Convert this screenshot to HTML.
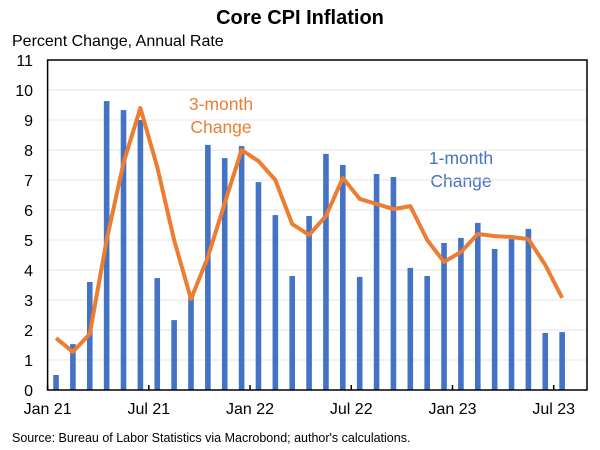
<!DOCTYPE html>
<html><head><meta charset="utf-8"><style>
body{margin:0;background:#fff;}
svg{display:block;font-family:"Liberation Sans",Arial,sans-serif;}
</style></head><body>
<svg id="chart" width="600" height="450">
<text x="300" y="24" text-anchor="middle" font-size="20" font-weight="bold">Core CPI Inflation</text>
<text x="12" y="46" font-size="16">Percent Change, Annual Rate</text>
<text x="12" y="442" font-size="12.5">Source: Bureau of Labor Statistics via Macrobond; author's calculations.</text>
<text x="221" y="110" text-anchor="middle" font-size="17.5" fill="#ED7D31">3-month</text>
<text x="221" y="133" text-anchor="middle" font-size="17.5" fill="#ED7D31">Change</text>
<text x="461" y="164" text-anchor="middle" font-size="17.5" fill="#4472C4">1-month</text>
<text x="461" y="187" text-anchor="middle" font-size="17.5" fill="#4472C4">Change</text>
<g id="grid"></g><g id="bars"></g><g id="line"></g><g id="axes"></g>
</svg>
<script>
const oneMonth=[0.5,1.53,3.6,9.63,9.33,9.0,3.73,2.33,3.1,8.17,7.73,8.13,6.93,5.83,3.8,5.8,7.87,7.5,3.77,7.2,7.1,4.07,3.8,4.9,5.07,5.57,4.7,5.03,5.37,1.9,1.93];
const threeMonth=[1.73,1.27,1.87,5.0,7.57,9.4,7.43,5.0,3.03,4.43,6.23,8.0,7.63,7.0,5.53,5.17,5.8,7.07,6.37,6.2,6.03,6.13,5.0,4.27,4.6,5.2,5.13,5.1,5.03,4.17,3.07];
const yTicks=[0,1,2,3,4,5,6,7,8,9,10,11];
const xTickLabels=["Jan 21","Jul 21","Jan 22","Jul 22","Jan 23","Jul 23"];
const xTickIdx=[0,6,12,18,24,30];
const NS="http://www.w3.org/2000/svg";
const L=47.6,T=60,B=390,R=587,slot=16.87;
const y=v=>B-v/11*(B-T);
const xc=i=>L+slot*(i+0.5);
const xb=i=>L+slot*i;
function mk(tag,attrs,parent){const e=document.createElementNS(NS,tag);for(const k in attrs)e.setAttribute(k,attrs[k]);parent.appendChild(e);return e;}
const grid=document.getElementById('grid'),bars=document.getElementById('bars'),line=document.getElementById('line'),axes=document.getElementById('axes');
yTicks.forEach(t=>{
 if(t>0){const g=mk('line',{x1:L,x2:R,y1:y(t),y2:y(t),stroke:'#e6e6e6','stroke-width':1},grid);
 
 }
 const tx=mk('text',{x:33,y:y(t)+6,'text-anchor':'end','font-size':16},axes);tx.textContent=t;
 
 
});
oneMonth.forEach((v,i)=>{
 const r=mk('rect',{x:xc(i)-2.8,y:y(v),width:5.6,height:B-y(v),fill:'#4472C4'},bars);
 
 
});
const p=mk('polyline',{points:threeMonth.map((v,i)=>xc(i)+','+y(v)).join(' '),fill:'none',stroke:'#ED7D31','stroke-width':4,'stroke-linejoin':'round'},line);


const fr=mk('rect',{x:L,y:T,width:R-L,height:B-T,fill:'none',stroke:'#000','stroke-width':1.5},axes);


xTickIdx.forEach((idx,k)=>{
 const tl=mk('line',{x1:xb(idx),x2:xb(idx),y1:B,y2:B-5,stroke:'#000','stroke-width':1.5},axes);
 
 
 const tx=mk('text',{x:xb(idx),y:414,'text-anchor':'middle','font-size':16},axes);tx.textContent=xTickLabels[k];
 
 
});
</script>
</body></html>
